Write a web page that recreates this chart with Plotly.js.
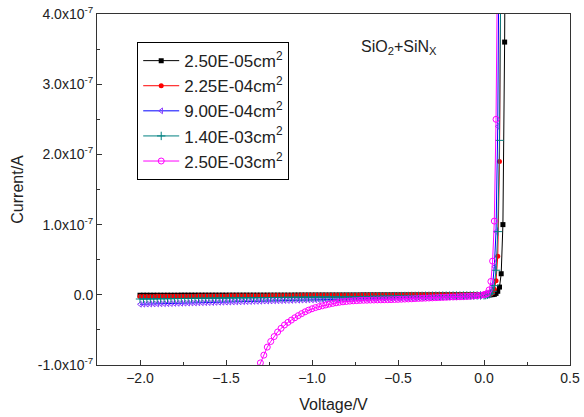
<!DOCTYPE html>
<html>
<head>
<meta charset="utf-8">
<script src="https://cdn.plot.ly/plotly-3.0.1.min.js"></script>
<style>html,body{margin:0;padding:0;background:#fff;}#chart{width:584px;height:417px;}</style>
</head>
<body>
<div id="chart"></div>
<script>
// Sweep voltage (V), -2.00 ... 0.00 in 0.02 V steps
const voltage = [
-2.00,-1.98,-1.96,-1.94,-1.92,-1.90,-1.88,-1.86,-1.84,-1.82,
-1.80,-1.78,-1.76,-1.74,-1.72,-1.70,-1.68,-1.66,-1.64,-1.62,
-1.60,-1.58,-1.56,-1.54,-1.52,-1.50,-1.48,-1.46,-1.44,-1.42,
-1.40,-1.38,-1.36,-1.34,-1.32,-1.30,-1.28,-1.26,-1.24,-1.22,
-1.20,-1.18,-1.16,-1.14,-1.12,-1.10,-1.08,-1.06,-1.04,-1.02,
-1.00,-0.98,-0.96,-0.94,-0.92,-0.90,-0.88,-0.86,-0.84,-0.82,
-0.80,-0.78,-0.76,-0.74,-0.72,-0.70,-0.68,-0.66,-0.64,-0.62,
-0.60,-0.58,-0.56,-0.54,-0.52,-0.50,-0.48,-0.46,-0.44,-0.42,
-0.40,-0.38,-0.36,-0.34,-0.32,-0.30,-0.28,-0.26,-0.24,-0.22,
-0.20,-0.18,-0.16,-0.14,-0.12,-0.10,-0.08,-0.06,-0.04,-0.02,
0.00];
// forward-bias voltages in the turn-on region (V)
const riseVoltage = [0.01,0.02,0.03,0.04,0.05,0.06,0.07,0.08,0.09,0.10,0.11,0.12,0.13];

// Currents in units of 1e-7 A
const cur_A1 = [ // 2.50E-05 cm2
-0.006,-0.006,-0.006,-0.006,-0.006,-0.006,-0.006,-0.006,-0.006,-0.006,
-0.006,-0.006,-0.005,-0.005,-0.005,-0.005,-0.005,-0.005,-0.005,-0.005,
-0.005,-0.005,-0.005,-0.005,-0.005,-0.005,-0.005,-0.005,-0.005,-0.005,
-0.005,-0.005,-0.005,-0.005,-0.005,-0.005,-0.005,-0.005,-0.005,-0.005,
-0.005,-0.005,-0.005,-0.005,-0.005,-0.004,-0.004,-0.004,-0.004,-0.004,
-0.004,-0.004,-0.004,-0.004,-0.004,-0.004,-0.004,-0.004,-0.004,-0.004,
-0.004,-0.004,-0.004,-0.004,-0.004,-0.003,-0.003,-0.003,-0.003,-0.003,
-0.003,-0.003,-0.003,-0.003,-0.003,-0.003,-0.003,-0.003,-0.003,-0.003,
-0.003,-0.003,-0.003,-0.003,-0.003,-0.002,-0.002,-0.002,-0.002,-0.002,
-0.002,-0.002,-0.002,-0.002,-0.002,-0.002,-0.002,-0.002,-0.002,-0.002,
-0.002];
const rise_A1 = [0.000,0.000,0.000,0.001,0.003,0.006,0.020,0.050,0.110,0.300,1.000,3.600,9.000];

const cur_A2 = [ // 2.25E-04 cm2
-0.024,-0.024,-0.023,-0.023,-0.023,-0.022,-0.022,-0.022,-0.021,-0.021,
-0.021,-0.020,-0.020,-0.020,-0.019,-0.019,-0.019,-0.018,-0.018,-0.018,
-0.017,-0.017,-0.017,-0.016,-0.016,-0.016,-0.015,-0.015,-0.015,-0.014,
-0.014,-0.014,-0.013,-0.013,-0.013,-0.012,-0.012,-0.012,-0.011,-0.011,
-0.011,-0.010,-0.010,-0.010,-0.009,-0.009,-0.009,-0.008,-0.008,-0.008,
-0.008,-0.008,-0.007,-0.007,-0.007,-0.007,-0.006,-0.006,-0.006,-0.006,
-0.005,-0.005,-0.005,-0.005,-0.004,-0.004,-0.004,-0.004,-0.003,-0.003,
-0.003,-0.003,-0.003,-0.002,-0.002,-0.002,-0.002,-0.002,-0.001,-0.001,
-0.001,-0.001,-0.001,-0.001,0.000,0.000,0.000,0.001,0.001,0.001,
0.002,0.002,0.002,0.002,0.002,0.002,0.002,0.002,0.002,0.002,
0.002];
const rise_A2 = [0.003,0.004,0.007,0.012,0.030,0.080,0.200,0.550,1.900,5.500];

const cur_A3 = [ // 9.00E-04 cm2
-0.135,-0.134,-0.133,-0.131,-0.130,-0.129,-0.128,-0.127,-0.126,-0.125,
-0.123,-0.122,-0.121,-0.120,-0.118,-0.117,-0.116,-0.114,-0.113,-0.112,
-0.111,-0.110,-0.108,-0.107,-0.106,-0.105,-0.104,-0.102,-0.101,-0.100,
-0.098,-0.097,-0.096,-0.094,-0.093,-0.092,-0.090,-0.089,-0.088,-0.086,
-0.085,-0.084,-0.082,-0.081,-0.080,-0.078,-0.077,-0.076,-0.074,-0.073,
-0.072,-0.071,-0.070,-0.069,-0.068,-0.067,-0.066,-0.065,-0.064,-0.063,
-0.062,-0.061,-0.060,-0.059,-0.058,-0.057,-0.056,-0.055,-0.054,-0.053,
-0.052,-0.051,-0.051,-0.050,-0.049,-0.048,-0.048,-0.047,-0.046,-0.046,
-0.045,-0.044,-0.043,-0.042,-0.041,-0.040,-0.039,-0.037,-0.035,-0.033,
-0.031,-0.029,-0.027,-0.026,-0.024,-0.022,-0.020,-0.018,-0.016,-0.014,
-0.012];
const rise_A3 = [-0.004,0.005,0.020,0.060,0.140,0.400,0.900,2.400,6.000];

const cur_A4 = [ // 1.40E-03 cm2
-0.060,-0.059,-0.059,-0.058,-0.058,-0.057,-0.056,-0.056,-0.055,-0.055,
-0.054,-0.053,-0.053,-0.052,-0.052,-0.051,-0.050,-0.050,-0.049,-0.049,
-0.048,-0.047,-0.047,-0.046,-0.046,-0.045,-0.045,-0.044,-0.044,-0.043,
-0.043,-0.042,-0.042,-0.041,-0.041,-0.040,-0.040,-0.039,-0.039,-0.038,
-0.038,-0.037,-0.037,-0.036,-0.036,-0.035,-0.035,-0.034,-0.034,-0.033,
-0.033,-0.032,-0.032,-0.031,-0.031,-0.030,-0.030,-0.029,-0.029,-0.028,
-0.027,-0.027,-0.026,-0.026,-0.025,-0.024,-0.024,-0.023,-0.023,-0.022,
-0.021,-0.021,-0.020,-0.020,-0.019,-0.018,-0.018,-0.017,-0.017,-0.016,
-0.016,-0.015,-0.015,-0.014,-0.014,-0.013,-0.013,-0.013,-0.012,-0.012,
-0.012,-0.011,-0.011,-0.011,-0.010,-0.010,-0.010,-0.009,-0.009,-0.009,
-0.008];
const rise_A4 = [-0.004,0.000,0.008,0.020,0.050,0.130,0.350,0.900,2.200,5.200];

// 2.50E-03 cm2: data start at -1.32 V (index 34 of voltage)
const startIdx_A5 = 34;
const cur_A5 = [
-1.090,-0.970,-0.860,-0.745,-0.665,-0.595,-0.530,-0.478,-0.430,-0.393,
-0.360,-0.327,-0.297,-0.268,-0.242,-0.219,-0.199,-0.182,-0.169,-0.157,
-0.145,-0.133,-0.123,-0.114,-0.106,-0.100,-0.095,-0.090,-0.086,-0.083,
-0.080,-0.078,-0.077,-0.075,-0.074,-0.073,-0.072,-0.071,-0.070,-0.069,
-0.067,-0.065,-0.063,-0.061,-0.059,-0.057,-0.054,-0.052,-0.050,-0.048,
-0.046,-0.044,-0.041,-0.039,-0.037,-0.035,-0.033,-0.031,-0.030,-0.028,
-0.026,-0.024,-0.021,-0.018,-0.013,-0.006,0.003];
const rise_A5 = [0.008,0.022,0.070,0.190,0.480,1.050,2.500,5.200];

const seriesNames = ['2.50E-05cm<sup>2</sup>','2.25E-04cm<sup>2</sup>','9.00E-04cm<sup>2</sup>','1.40E-03cm<sup>2</sup>','2.50E-03cm<sup>2</sup>'];
const yTickVals = [-1,0,1,2,3,4];
const yTickText = ['-1.0x10<sup>-7</sup>','0.0','1.0x10<sup>-7</sup>','2.0x10<sup>-7</sup>','3.0x10<sup>-7</sup>','4.0x10<sup>-7</sup>'];

function mk(vBase, iBase, iRise, name, lineColor, marker, grp) {
  const x = vBase.concat(riseVoltage.slice(0, iRise.length));
  const y = iBase.concat(iRise);
  return {x, y, name, legendgroup:grp, type:'scatter', mode:'lines+markers',
    line:{color:lineColor, width:1}, marker, cliponaxis:true};
}

const traces = [
  mk(voltage, cur_A1, rise_A1, seriesNames[0], '#000000', {symbol:'square', size:5, color:'#000000'}, 'g1'),
  mk(voltage, cur_A2, rise_A2, seriesNames[1], '#ff0000', {symbol:'circle', size:5, color:'#ff0000'}, 'g2'),
  mk(voltage, cur_A3, rise_A3, seriesNames[2], '#0000ff', {symbol:'triangle-left-open', size:5, color:'#8a3cff', line:{width:1, color:'#8a3cff'}}, 'g3'),
  mk(voltage, cur_A4, rise_A4, seriesNames[3], '#008080', {symbol:'cross-thin-open', size:6, color:'#008080', line:{width:1, color:'#008080'}}, 'g4'),
  mk(voltage.slice(startIdx_A5), cur_A5, rise_A5, seriesNames[4], '#ff00ff', {symbol:'circle-open', size:6, color:'#ff00ff', line:{width:1, color:'#ff00ff'}}, 'g5')
];

const axisCommon = {showgrid:false, zeroline:false, showline:true, linecolor:'#333', linewidth:1,
  mirror:true, ticks:'inside', ticklen:5, tickcolor:'#333', tickwidth:1,
  tickfont:{family:'Liberation Sans, Arial, sans-serif', size:14, color:'#222'}};

const layout = {
  width:584, height:417,
  margin:{l:97, r:14, t:14, b:52},
  paper_bgcolor:'#fff', plot_bgcolor:'#fff',
  font:{family:'Liberation Sans, Arial, sans-serif', color:'#222'},
  showlegend:true,
  legend:{x:0.085, y:0.92, xanchor:'left', yanchor:'top', bordercolor:'#000', borderwidth:1,
    bgcolor:'#fff', font:{size:17, color:'#222'}, itemwidth:36, tracegroupgap:0},
  xaxis:Object.assign({}, axisCommon, {range:[-2.25,0.5], tick0:0, dtick:0.5, tickformat:'.1f',
    minor:{dtick:0.25, ticks:'inside', ticklen:3, tickcolor:'#333'},
    title:{text:'Voltage/V', font:{size:16, color:'#222'}, standoff:14}}),
  yaxis:Object.assign({}, axisCommon, {range:[-1,4], tickmode:'array', tickvals:yTickVals, ticktext:yTickText,
    minor:{tickvals:[-0.5,0.5,1.5,2.5,3.5], ticks:'inside', ticklen:3, tickcolor:'#333'},
    title:{text:'Current/A', font:{size:16, color:'#222'}, standoff:10}}),
  annotations:[{xref:'paper', yref:'paper', x:0.638, y:0.904, xanchor:'center', yanchor:'middle', showarrow:false,
    text:'SiO<sub>2</sub>+SiN<sub>X</sub>', font:{size:16, color:'#222'}}]
};

Plotly.newPlot('chart', traces, layout, {displayModeBar:false, staticPlot:true});
</script>
</body>
</html>
